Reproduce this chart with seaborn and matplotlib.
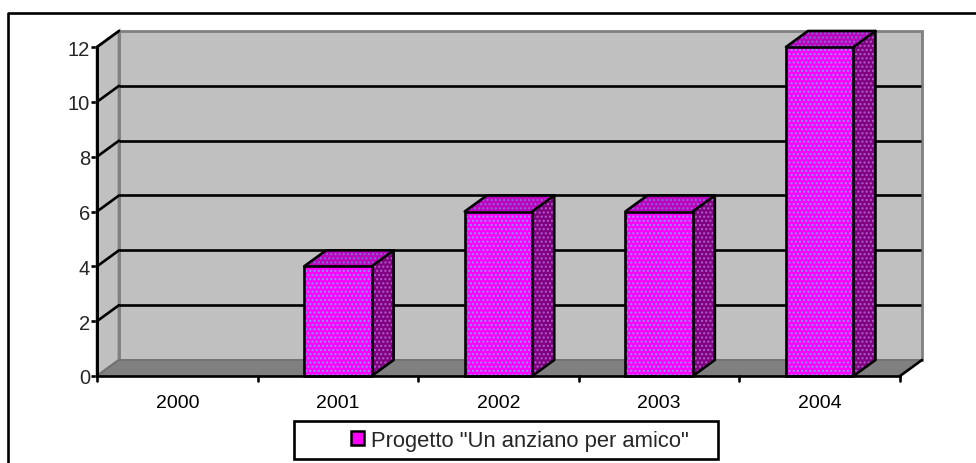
import matplotlib
matplotlib.use("Agg")
import matplotlib.pyplot as plt
from matplotlib.lines import Line2D
from matplotlib.patches import Rectangle, Patch
import seaborn as sns
import pandas as pd

years = ["2000", "2001", "2002", "2003", "2004"]
values = [0, 4, 6, 6, 12]
y_ticks = [0, 2, 4, 6, 8, 10, 12]
series_name = 'Progetto "Un anziano per amico"'

W, H = 976, 464
sns.set_theme(style="white")
plt.rcParams["font.family"] = ["Liberation Sans", "DejaVu Sans"]
plt.rcParams["hatch.linewidth"] = 1.0

fig = plt.figure(figsize=(W / 100, H / 100), dpi=100, facecolor="white")
ax = fig.add_axes([97 / W, 1 - 377 / H, (900 - 97) / W, (377 - 48) / H])
ax.patch.set_alpha(0)

BLACK_LW = 1.9
DX = 0.137   # depth in category units
DY = 0.584   # depth in value units
BW = 0.42
x0, x1 = -0.5, 4.5
top = y_ticks[-1]

# front faces of the bars
df = pd.DataFrame({"year": years, "value": values})
sns.barplot(data=df, x="year", y="value", order=years, width=BW, ax=ax,
            color="#ff00ff", saturation=1, zorder=3)
for p in ax.containers[0]:
    p.set_facecolor("#ff00ff")
    p.set_edgecolor("#80a0ff")
    p.set_hatch("....")
    p.set_linewidth(0)
ax.set_xlim(x0, x1)
ax.set_ylim(0, top)

# back wall, left wall, floor
ax.fill([x0 + DX, x1 + DX, x1 + DX, x0 + DX], [DY, DY, top + DY, top + DY],
        fc="#c0c0c0", ec="#808080", lw=2, zorder=1, clip_on=False)
ax.fill([x0, x0 + DX, x0 + DX, x0], [0, DY, top + DY, top],
        fc="#c0c0c0", ec="#808080", lw=2, zorder=1, clip_on=False)
ax.fill([x0, x1, x1 + DX, x0 + DX], [0, 0, DY, DY],
        fc="#808080", ec="#6e6e6e", lw=1, zorder=1.5, clip_on=False)

# gridlines along the wall
for t in y_ticks[1:]:
    if t < top:
        ax.plot([x0 + DX, x1 + DX - 0.005], [t + DY, t + DY], color="black", lw=BLACK_LW,
                zorder=2, clip_on=False, solid_capstyle="butt")
    ax.plot([x0, x0 + DX], [t, t + DY], color="black", lw=BLACK_LW, zorder=2, clip_on=False)

# depth faces and outlines
for i, v in enumerate(values):
    if v <= 0:
        continue
    l, r = i - BW / 2, i + BW / 2
    ax.fill([r, r + DX, r + DX, r], [0, DY, v + DY, v], fc="#800080", ec="#b060d0",
            hatch="....", lw=0, zorder=3, clip_on=False)
    ax.fill([l, r, r + DX, l + DX], [v, v, v + DY, v + DY], fc="#c000c0", ec="#8070d0",
            hatch="....", lw=0, zorder=3, clip_on=False)
    ax.plot([l, l, r, r, l], [0, v, v, 0, 0], color="black", lw=BLACK_LW, zorder=4, clip_on=False)
    ax.plot([r, r + DX, r + DX, r], [0, DY, v + DY, v], color="black", lw=BLACK_LW, zorder=4, clip_on=False)
    ax.plot([l, l + DX, r + DX], [v, v + DY, v + DY], color="black", lw=BLACK_LW, zorder=4, clip_on=False)

# front axes
ax.plot([x1, x1 + DX], [0, DY], color="black", lw=BLACK_LW, zorder=5, clip_on=False)
ax.plot([x0, x0], [0, top], color="black", lw=BLACK_LW, zorder=5, clip_on=False)
for s in ("top", "right"):
    ax.spines[s].set_visible(False)
for s in ("left", "bottom"):
    ax.spines[s].set_color("black")
    ax.spines[s].set_linewidth(BLACK_LW)
    ax.spines[s].set_zorder(5)

ax.set_xlabel("")
ax.set_ylabel("")
ax.set_yticks(y_ticks)
ax.set_xticks(range(len(years)))
ax.set_xticklabels(years)
ax.tick_params(axis="x", length=0, pad=13, labelsize=14, colors="black")
ax.tick_params(axis="y", length=4, width=BLACK_LW, pad=1, labelsize=14.5, left=True, color="black")
for b in [i - 0.5 for i in range(len(years) + 1)]:
    ax.plot([b, b], [0, -0.19], color="black", lw=BLACK_LW, zorder=5, clip_on=False)

# legend box and legend
fig.add_artist(Rectangle((294 / W, 1 - 460 / H), (718 - 294) / W, (460 - 422) / H,
                         transform=fig.transFigure, fc="white", ec="black", lw=BLACK_LW, zorder=6))
leg = fig.legend(handles=[Patch(fc="#ff00ff", ec="black", lw=1.8, label=series_name)],
                 loc="center", bbox_to_anchor=(520 / W, 1 - 441 / H), fontsize=15.8,
                 frameon=False, handlelength=0.6, handleheight=0.6, handletextpad=0.3,
                 borderpad=0, borderaxespad=0)
leg.set_zorder(7)

# chart frame: only its top and left edges fall inside the picture
fig.add_artist(Line2D([8 / W, 8 / W, 1], [0, 1 - 14 / H, 1 - 14 / H], transform=fig.transFigure,
                      color="black", lw=BLACK_LW, zorder=0))

fig.savefig("out.png", dpi=100)
